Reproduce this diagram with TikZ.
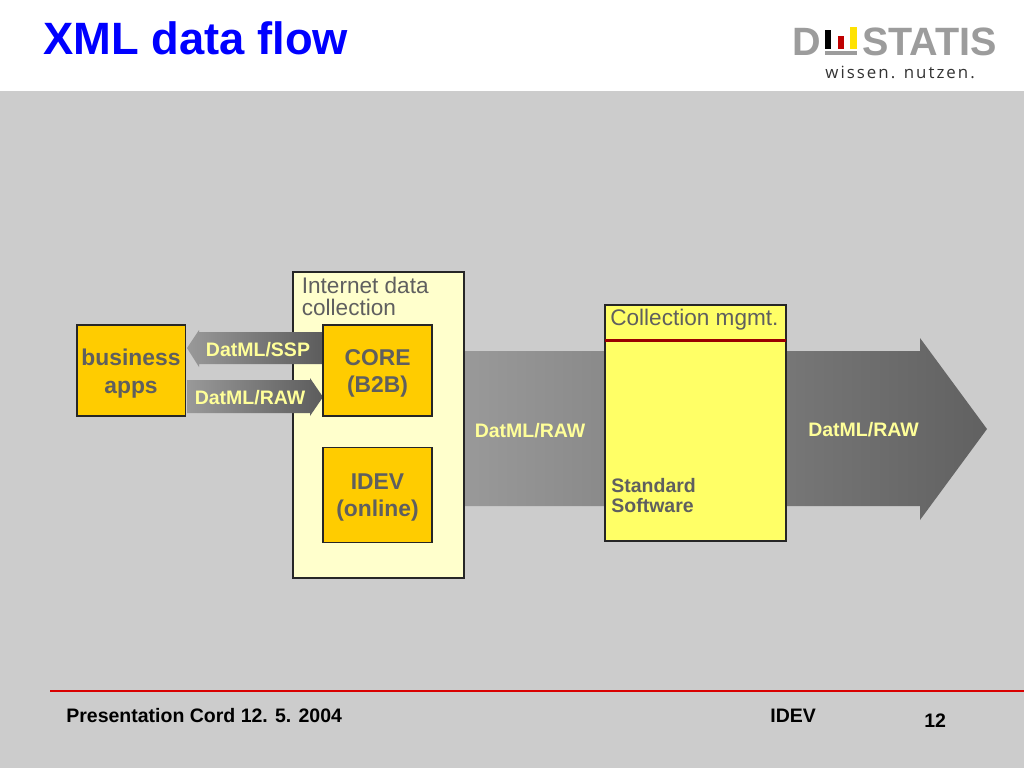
\documentclass[tikz,border=0pt]{standalone}
\usepackage{fontspec}
\setmainfont{Liberation Sans}
\newfontfamily\logofont[LetterSpace=12]{Open Sans}
\definecolor{slidegray}{HTML}{CCCCCC}
\definecolor{labelgray}{HTML}{5F5F5F}
\definecolor{labelyellow}{HTML}{FFFF99}
\definecolor{boxorange}{HTML}{FFCC00}
\definecolor{framecream}{HTML}{FFFFCC}
\definecolor{softyellow}{HTML}{FFFF66}
\definecolor{logogray}{HTML}{9C9C9C}
\tikzset{
  appbox/.style={draw=black!85, line width=0.75pt, fill=boxorange},
  boxtext/.style={text=labelgray, font=\bfseries\fontsize{13}{15.8}\selectfont, align=center},
  flowtext/.style={text=labelyellow, font=\bfseries\fontsize{11.1}{12}\selectfont},
  headtext/.style={text=labelgray, font=\fontsize{12.85}{12.6}\selectfont, align=left},
  foottext/.style={text=black, font=\bfseries\fontsize{11.1}{12}\selectfont}
}
\begin{document}
\begin{tikzpicture}[x=0.02cm, y=-0.02cm]
  \useasboundingbox (0,0) rectangle (1024,768);
  % Slide background
  \fill[white] (0,0) rectangle (1024,768);
  \fill[slidegray] (0,91) rectangle (1024,768);
  % Title
  \node[anchor=west, inner sep=0pt, text=blue, font=\bfseries\fontsize{25.8}{28}\selectfont] (title) at (43,38.5) {XML data flow};
  % Logo
  \fill[black] (825,30) rectangle (831,49);
  \fill[red!75!black] (838,36) rectangle (844,49);
  \fill[yellow!85!orange] (850,27) rectangle (857,49);
  \fill[logogray] (825,51) rectangle (857,55);
  \node[anchor=base west, inner sep=0pt, text=logogray, font=\bfseries\fontsize{22.5}{24}\selectfont] (logod) at (792,55) {D};
  \node[anchor=base west, inner sep=0pt, text=logogray, font=\bfseries\fontsize{22.5}{24}\selectfont] (logostatis) at (862,55) {STATIS};
  \node[anchor=base west, inner sep=0pt, text=black!80, font=\logofont\fontsize{9.6}{11}\selectfont] (logosub) at (825,78) {wissen. nutzen.};
  % Large arrow behind the collection box
  \shade[left color=black!40, right color=black!62] (465,351) -- (920,351) -- (920,338) -- (987,429)
    -- (920,520) -- (920,506) -- (465,506) -- cycle;
  % Internet data collection frame
  \draw[draw=black!85, line width=0.75pt, fill=framecream] (293,272) rectangle (464,578);
  \node[headtext, anchor=north west, inner sep=0pt] (internet) at (301.5,276.5) {Internet data\\collection};
  % Small arrows between apps and CORE
  \shade[left color=black!40, right color=black!64] (323,332) -- (199,332) -- (199,330) -- (187,348)
    -- (199,367) -- (199,364) -- (323,364) -- cycle;
  \shade[left color=black!40, right color=black!64] (187,380) -- (310,380) -- (310,378) -- (323,397)
    -- (310,416) -- (310,413) -- (187,413) -- cycle;
  \node[flowtext] (ssp) at (258,349.5) {DatML/SSP};
  \node[flowtext] (rawa) at (250,398) {DatML/RAW};
  % Application boxes
  \draw[appbox] (77,325) rectangle (185.5,416);
  \node[boxtext] (apps) at (131,373.5) {business\\apps};
  \draw[appbox] (323,325) rectangle (432,416);
  \node[boxtext] (core) at (377.5,373.5) {CORE\\(B2B)};
  \draw[appbox] (323,447.5) rectangle (432,542.5);
  \node[boxtext] (idev) at (377.5,497.5) {IDEV\\(online)};
  % Collection management box
  \draw[draw=black!85, line width=0.75pt, fill=softyellow] (605,305) rectangle (786,541);
  \draw[draw=red!60!black, line width=1.2pt] (605,340.5) -- (786,340.5);
  \node[headtext, anchor=west, inner sep=0pt] (mgmt) at (610,320) {Collection mgmt.};
  \node[anchor=north west, inner sep=0pt, text=labelgray, align=left, font=\bfseries\fontsize{11.1}{11.4}\selectfont] (software) at (611,478) {Standard\\Software};
  % Labels on the large arrow
  \node[flowtext] (rawb) at (530,430.5) {DatML/RAW};
  \node[flowtext] (rawc) at (863.5,430) {DatML/RAW};
  % Footer
  \draw[red!85!black, line width=0.75pt] (50,691) -- (1024,691);
  \node[foottext, anchor=west, inner sep=0pt] (foot) at (66,716) {Presentation Cord 12. 5. 2004};
  \node[foottext, anchor=west, inner sep=0pt] (footidev) at (770,716) {IDEV};
  \node[foottext, anchor=west, inner sep=0pt] (page) at (924,721) {12};
\end{tikzpicture}
\end{document}
